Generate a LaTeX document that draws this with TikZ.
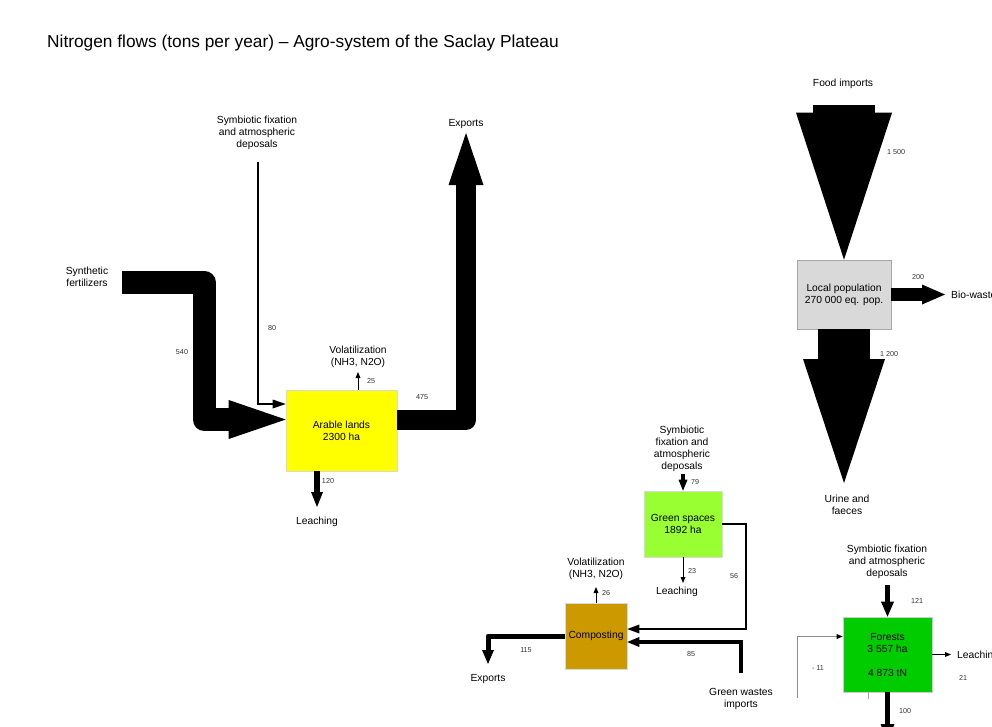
\documentclass[tikz,border=0pt]{standalone}
\usepackage{fontspec}
\setmainfont{Liberation Sans}
\usetikzlibrary{arrows.meta}
\definecolor{arablefill}{HTML}{FFFF00}
\definecolor{grassfill}{HTML}{99FF33}
\definecolor{compostfill}{HTML}{CC9900}
\definecolor{forestfill}{HTML}{00CC00}
\definecolor{popfill}{HTML}{D9D9D9}
\begin{document}
\begin{tikzpicture}[x=1pt,y=-1pt,
  lbl/.style={font=\fontsize{10.3}{12}\selectfont,align=center,inner sep=0pt},
  num/.style={font=\fontsize{7.2}{8}\selectfont,inner sep=0pt,text=black!80},
  pool/.style={draw=black!30,line width=0.6pt,inner sep=0pt,align=center,
    font=\fontsize{10.3}{12}\selectfont},
  band/.style={draw=black,line width=#1},
  flowtip/.style 2 args={-{Triangle[length=#1,width=#2,line width=0pt]}},
  thinflow/.style={draw=black,line width=1pt,-{Triangle[length=6pt,width=5pt,line width=0pt]}}]
% picture in pixel units of the 992x726 page
\useasboundingbox (0,0) rectangle (992,726);
\node[anchor=west,inner sep=0pt,font=\fontsize{17.3}{20}\selectfont] (title) at (47,43)
  {Nitrogen flows (tons per year) – Agro-system of the Saclay Plateau};
%
% arable lands
\node[pool,fill=arablefill,draw=black!15,minimum width=111pt,minimum height=81pt]
  (arable) at (341.5,430.5) {Arable lands\\2300 ha};
\node[lbl] (fert) at (87,276.5) {Synthetic\\fertilizers};
\coordinate (fertout) at (122,282);
\draw[band=23pt,line join=round,flowtip={57pt}{39pt}]
  (fertout) -- (204,282) -- (204,419.5) -- ([yshift=11pt]arable.west);
\node[num] at (182,352) {540};
\node[lbl] (fixA) at (257,133) {Symbiotic fixation\\and atmospheric\\deposals};
\coordinate (fixAout) at (258,162);
\draw[band=2.5pt,flowtip={13pt}{9pt}] (fixAout) |- ([yshift=26.5pt]arable.west);
\node[num] at (272,328) {80};
\node[lbl] (volA) at (358,357) {Volatilization\\(NH3, N2O)};
\coordinate (volAin) at (358,372);
\draw[thinflow] ([xshift=16.5pt]arable.north) -- (volAin);
\node[num] at (371,381) {25};
\node[lbl] (expA) at (466,124) {Exports};
\coordinate (expAin) at (466,133);
\draw[band=20pt,line join=round,flowtip={52pt}{35pt}]
  ([yshift=10.5pt]arable.east) -| (expAin);
\node[num] at (422,397) {475};
\node[lbl] (leachA) at (317,522) {Leaching};
\coordinate (leachAin) at (317,507);
\draw[band=6pt,flowtip={15pt}{12pt}] ([xshift=-24.5pt]arable.south) -- (leachAin);
\node[num] at (328,481) {120};
%
% local population
\node[pool,fill=popfill,draw=black!35,minimum width=94pt,minimum height=69pt]
  (pop) at (844,294.5) {Local population\\270 000 eq. pop.};
\node[lbl] (food) at (843,84) {Food imports};
\coordinate (foodout) at (844,105);
\draw[band=62pt,flowtip={147pt}{96pt}] (foodout) -- (pop.north);
\node[num] at (896,152) {1 500};
\node[lbl,anchor=west] (biow) at (951,295) {Bio-waste};
\coordinate (biowin) at (945,294.5);
\draw[band=13pt,flowtip={23pt}{20pt}] (pop.east) -- (biowin);
\node[num] at (918,277) {200};
\node[lbl] (urine) at (847,505) {Urine and\\faeces};
\coordinate (urinein) at (844,483);
\draw[band=52pt,flowtip={124pt}{82pt}] (pop.south) -- (urinein);
\node[num] at (889,354) {1 200};
%
% forests
\node[pool,fill=forestfill,draw=black!20,minimum width=89pt,minimum height=75pt]
  (forest) at (887.5,654.5) {Forests\\3 557 ha\\[12pt]4 873 tN};
\node[lbl] (fixF) at (887,562) {Symbiotic fixation\\and atmospheric\\deposals};
\coordinate (fixFout) at (887.5,585);
\draw[band=5pt,flowtip={15pt}{13pt}] (fixFout) -- (forest.north);
\node[num] at (917,601) {121};
\node[lbl,anchor=west] (leachF) at (957,656) {Leaching};
\coordinate (leachFin) at (951,654.5);
\draw[thinflow] (forest.east) -- (leachFin);
\node[num] at (963,678) {21};
\coordinate (forestout) at (887.5,742);
\draw[band=5pt,flowtip={18pt}{14pt}] (forest.south) -- (forestout);
\node[num] at (905,711) {100};
\coordinate (loopst) at (797,698);
\draw[black!45,line width=1pt,-{Triangle[length=6pt,width=5pt,line width=0pt,color=black]}]
  (loopst) |- ([yshift=18pt]forest.west);
\coordinate (loopend) at (868,699);
\draw[black!35,line width=1pt] ([xshift=-19.5pt]forest.south) -- (loopend);
\node[num] at (818,668) {- 11};
%
% green spaces and composting
\node[pool,fill=grassfill,draw=black!15,minimum width=78pt,minimum height=66pt]
  (green) at (683,524) {Green spaces\\1892 ha};
\node[lbl] (fixG) at (682,448.5) {Symbiotic\\fixation and\\atmospheric\\deposals};
\coordinate (fixGout) at (683,474);
\draw[band=3.5pt,flowtip={11pt}{9pt}] (fixGout) -- (green.north);
\node[num] at (695,482) {79};
\node[lbl] (leachG) at (677,592) {Leaching};
\coordinate (leachGin) at (683,583);
\draw[thinflow] (green.south) -- (leachGin);
\node[num] at (692,571) {23};
\node[pool,fill=compostfill,draw=black!15,minimum width=62pt,minimum height=66pt]
  (comp) at (596,636) {Composting};
\coordinate (c56) at (746,629);
\draw[band=2.8pt,flowtip={12pt}{9pt}] (green.east) -| (c56) -- ([yshift=7pt]comp.east);
\node[num] at (734,576) {56};
\node[lbl] (volC) at (596,569) {Volatilization\\(NH3, N2O)};
\coordinate (volCin) at (596,587);
\draw[thinflow] (comp.north) -- (volCin);
\node[num] at (606,593) {26};
\node[lbl] (gwaste) at (741,699) {Green wastes\\imports};
\coordinate (gwout) at (741,673);
\draw[band=4.5pt,flowtip={12pt}{10pt}] (gwout) |- ([yshift=-6pt]comp.east);
\node[num] at (691,654) {85};
\node[lbl] (expC) at (488,679) {Exports};
\coordinate (expCin) at (488,664);
\draw[band=5pt,line join=round,flowtip={14pt}{12pt}] (comp.west) -| (expCin);
\node[num] at (526,650) {115};
\end{tikzpicture}
\end{document}
